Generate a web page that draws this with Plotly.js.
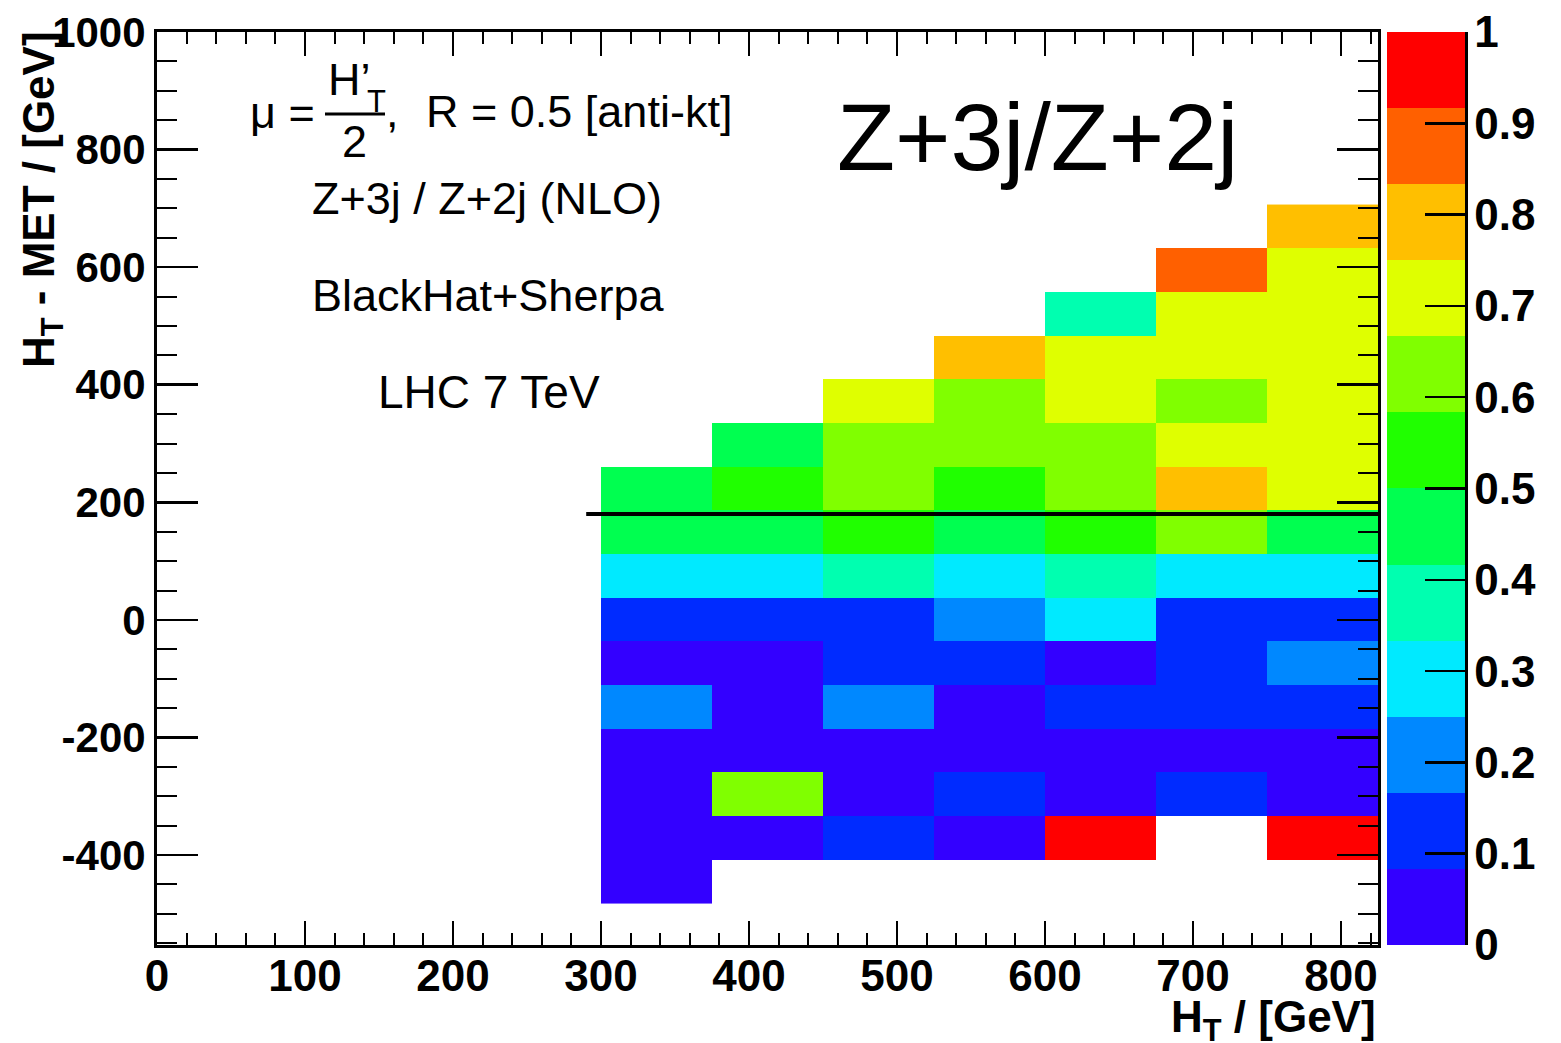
<!DOCTYPE html>
<html>
<head>
<meta charset="utf-8">
<script src="https://cdn.plot.ly/plotly-3.0.1.min.js"></script>
<style>
  html, body { margin: 0; padding: 0; background: #ffffff; }
  #chart { width: 1561px; height: 1043px; }
</style>
</head>
<body>
<div id="chart"></div>
<script>
// Bin centres (GeV): H_T along x (75 GeV bins), H_T - MET along y (~74 GeV bins)
const htCenters = [337.5, 412.5, 487.5, 562.5, 637.5, 712.5, 787.5];
const diffCenters = [-446, -372, -297, -223, -149, -74, 0, 74, 149, 223, 297, 372, 446, 520, 594, 669];

// Z+3j / Z+2j ratio per bin, one row per H_T - MET bin (bottom to top); null = empty bin
const ratioRows = [
  [0.04, null, null, null, null, null, null],   // -446
  [0.04, 0.04, 0.12, 0.04, 0.96, null, 0.96],   // -372
  [0.04, 0.62, 0.04, 0.12, 0.04, 0.12, 0.04],   // -297
  [0.04, 0.04, 0.04, 0.04, 0.04, 0.04, 0.04],   // -223
  [0.21, 0.04, 0.21, 0.04, 0.12, 0.12, 0.12],   // -149
  [0.04, 0.04, 0.12, 0.12, 0.04, 0.12, 0.21],   // -74
  [0.12, 0.12, 0.12, 0.21, 0.29, 0.12, 0.12],   // 0
  [0.29, 0.29, 0.37, 0.29, 0.37, 0.29, 0.29],   // 74
  [0.46, 0.46, 0.54, 0.46, 0.54, 0.62, 0.46],   // 149
  [0.46, 0.54, 0.62, 0.54, 0.62, 0.79, 0.71],   // 223
  [null, 0.46, 0.62, 0.62, 0.62, 0.71, 0.71],   // 297
  [null, null, 0.71, 0.62, 0.71, 0.62, 0.71],   // 372
  [null, null, null, 0.79, 0.71, 0.71, 0.71],   // 446
  [null, null, null, null, 0.37, 0.71, 0.71],   // 520
  [null, null, null, null, null, 0.87, 0.71],   // 594
  [null, null, null, null, null, null, 0.79]    // 669
];

// Horizontal cut line (GeV)
const cutX = [290, 825];
const cutY = [180, 180];

// Axis tick labels
const yTickVals = [-400, -200, 0, 200, 400, 600, 800, 1000];
const yTickText = ['-400', '-200', '0', '200', '400', '600', '800', '1000'];

// Palette bands (12 contour levels between 0 and 1)
const paletteColors = ['#3300ff', '#002bff', '#0088ff', '#00eaff', '#00ffb0', '#00ff50',
                       '#20ff00', '#80ff00', '#dfff00', '#ffbf00', '#ff6000', '#ff0000'];
const colorTicks = [0, 0.1, 0.2, 0.3, 0.4, 0.5, 0.6, 0.7, 0.8, 0.9, 1];
const colorTickText = ['0', '0.1', '0.2', '0.3', '0.4', '0.5', '0.6', '0.7', '0.8', '0.9', '1'];

// Stepped colour scale built from the palette bands
const colorscale = [];
paletteColors.forEach((c, i) => {
  colorscale.push([i / paletteColors.length, c]);
  colorscale.push([(i + 1) / paletteColors.length, c]);
});

// Plot frame in pixels
const W = 1561, H = 1043;
const L = 157, R = 1378, T = 32, B = 945;
const px = x => (x - L) / (R - L);
const py = y => (B - y) / (B - T);

const FONT = 'Liberation Sans, Arial, Helvetica, sans-serif';

const heat = {
  type: 'heatmap',
  x: htCenters,
  y: diffCenters,
  z: ratioRows,
  zmin: 0,
  zmax: 1,
  colorscale: colorscale,
  hoverongaps: false,
  colorbar: {
    x: px(1387), xanchor: 'left',
    y: 0, yanchor: 'bottom',
    len: 1, lenmode: 'fraction',
    thickness: 78, thicknessmode: 'pixels',
    outlinewidth: 0,
    xpad: 0, ypad: 0,
    ticks: 'inside', ticklen: 40, tickwidth: 2.5, tickcolor: '#000',
    tickvals: colorTicks, ticktext: colorTickText,
    ticklabelstandoff: -6,
    tickfont: { family: FONT, size: 44, color: '#000', weight: 'bold' }
  }
};

const cut = {
  type: 'scatter',
  mode: 'lines',
  x: cutX,
  y: cutY,
  line: { color: '#000', width: 4 },
  hoverinfo: 'skip',
  showlegend: false
};

const axisCommon = {
  showgrid: false,
  zeroline: false,
  showline: true,
  linecolor: '#000',
  linewidth: 3,
  mirror: 'allticks',
  ticks: 'inside',
  tickcolor: '#000',
  tickwidth: 2.5
};

const textFont = { family: FONT, size: 45, color: '#000' };
const ann = (text, x, y, xanchor, opts) => Object.assign({
  text: text, xref: 'paper', yref: 'paper', x: px(x), y: py(y),
  xanchor: xanchor, yanchor: 'middle', showarrow: false, font: textFont
}, opts || {});

const layout = {
  width: W, height: H,
  margin: { l: L, r: W - R, t: T, b: H - B, pad: 0, autoexpand: false },
  paper_bgcolor: '#ffffff',
  plot_bgcolor: '#ffffff',
  showlegend: false,
  xaxis: Object.assign({}, axisCommon, {
    range: [0, 825],
    tick0: 0, dtick: 100, ticklen: 24,
    ticklabelstandoff: -10,
    minor: { dtick: 20, ticklen: 12, ticks: 'inside', tickcolor: '#000', tickwidth: 2 },
    tickfont: { family: FONT, size: 44, color: '#000', weight: 'bold' }
  }),
  yaxis: Object.assign({}, axisCommon, {
    range: [-553, 1000],
    tickvals: yTickVals, ticktext: yTickText, ticklen: 41,
    minor: { dtick: 50, ticklen: 20, ticks: 'inside', tickcolor: '#000', tickwidth: 2 },
    tickfont: { family: FONT, size: 42, color: '#000', weight: 'bold' }
  }),
  shapes: [
    // right-hand axis line of the palette
    { type: 'line', xref: 'paper', yref: 'paper', x0: px(1466.5), x1: px(1466.5), y0: 0, y1: 1,
      line: { color: '#000', width: 3 } },
    // fraction bar of the scale definition
    { type: 'line', xref: 'paper', yref: 'paper', x0: px(325), x1: px(385), y0: py(114), y1: py(114),
      line: { color: '#000', width: 3 } }
  ],
  annotations: [
    ann('\u03bc =', 248, 113, 'left'),
    ann('H\u2019', 326, 80, 'left'),
    ann('T', 365, 101, 'left', { font: { family: FONT, size: 31, color: '#000' } }),
    ann('2', 354, 141, 'center'),
    ann(',', 384, 111, 'left'),
    ann('R = 0.5 [anti-kt]', 424, 111, 'left'),
    ann('Z+3j / Z+2j (NLO)', 487, 199, 'center'),
    ann('BlackHat+Sherpa', 488, 295, 'center'),
    ann('LHC 7 TeV', 489, 392, 'center', { font: { family: FONT, size: 46, color: '#000' } }),
    ann('Z+3j/Z+2j', 1037, 137, 'center', { font: { family: FONT, size: 95, color: '#000' } }),
    // axis titles
    ann('<b>H<sub>T</sub> / [GeV]</b>', R, 1020, 'right',
        { font: { family: FONT, size: 44, color: '#000' } }),
    ann('<b>H<sub>T</sub> - MET / [GeV]</b>', 42, 200, 'center',
        { textangle: -90, font: { family: FONT, size: 44, color: '#000' } })
  ]
};

Plotly.newPlot('chart', [heat, cut], layout, { staticPlot: true, displayModeBar: false });
</script>
</body>
</html>
